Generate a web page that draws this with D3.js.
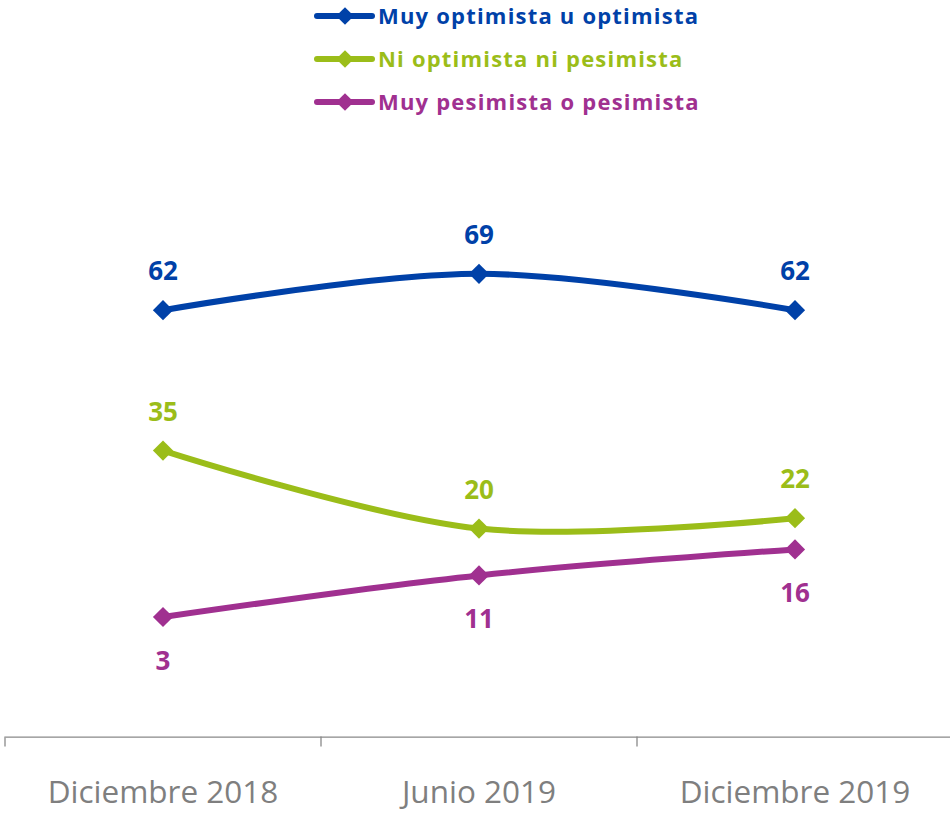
<!DOCTYPE html>
<html>
<head>
<meta charset="utf-8">
<script src="https://cdn.jsdelivr.net/npm/d3@7"></script>
<style>
  body { margin: 0; background: #fff; }
  svg { display: block; }
</style>
</head>
<body>
<div id="chart"></div>
<script>
const categories = ["Diciembre 2018", "Junio 2019", "Diciembre 2019"];
const seriesNames = ["Muy optimista u optimista", "Ni optimista ni pesimista", "Muy pesimista o pesimista"];
const optimista = [62, 69, 62];
const neutral = [35, 20, 22];
const pesimista = [3, 11, 16];
const colors = ["#0041a8", "#9bbd19", "#a03090"];
const labelPos = ["above", "above", "below"];

const width = 950, height = 814;
const series = [optimista, neutral, pesimista].map((values, i) => ({
    name: seriesNames[i], values, color: colors[i], pos: labelPos[i]
}));

const svg = d3.select("#chart")
    .append("svg")
    .attr("width", width)
    .attr("height", height);

const x = d3.scaleBand()
    .domain(categories)
    .range([5, 953]);

const y = d3.scaleLinear()
    .domain([-20, 100])
    .range([736.6, 112.6]);

// x axis
const axis = svg.append("g")
    .attr("transform", `translate(0,${y(-20)})`)
    .call(d3.axisBottom(x).tickSize(0).tickPadding(44));
axis.select(".domain").attr("stroke", "#898989").attr("stroke-width", 1.3);
axis.selectAll(".tick text")
    .attr("fill", "#7f7f7f")
    .style("font-family", "'Open Sans', sans-serif")
    .style("font-size", "31.5px");

svg.append("g")
    .selectAll("line")
    .data(categories)
    .join("line")
    .attr("x1", d => x(d))
    .attr("x2", d => x(d))
    .attr("y1", y(-20))
    .attr("y2", y(-20) + 10)
    .attr("stroke", "#898989")
    .attr("stroke-width", 1.3);

const line = d3.line()
    .x((d, i) => x(categories[i]) + x.bandwidth() / 2)
    .y(d => y(d))
    .curve(d3.curveCatmullRom.alpha(0.5));

const diamond = d3.symbol().type(d3.symbolDiamond2).size(260);

series.forEach(s => {
    const g = svg.append("g");
    g.append("path")
        .datum(s.values)
        .attr("d", line)
        .attr("fill", "none")
        .attr("stroke", s.color)
        .attr("stroke-width", 6);
    g.selectAll("path.pt")
        .data(s.values)
        .join("path")
        .attr("class", "pt")
        .attr("d", diamond)
        .attr("transform", (d, i) => `translate(${x(categories[i]) + x.bandwidth() / 2},${y(d)})`)
        .attr("fill", s.color);
    g.selectAll("text")
        .data(s.values)
        .join("text")
        .attr("x", (d, i) => x(categories[i]) + x.bandwidth() / 2)
        .attr("y", d => s.pos === "above" ? y(d) - 30 : y(d) + 53)
        .attr("text-anchor", "middle")
        .attr("fill", s.color)
        .style("font-family", "'Open Sans', sans-serif")
        .style("font-weight", "bold")
        .style("font-size", "26px")
        .text(d => d);
});

// legend
const legend = svg.append("g").attr("transform", "translate(317,0)");
const legendRows = legend.selectAll("g")
    .data(series)
    .join("g")
    .attr("transform", (d, i) => `translate(0,${16 + i * 43})`);
legendRows.append("line")
    .attr("x1", 0).attr("x2", 55)
    .attr("stroke", d => d.color)
    .attr("stroke-width", 6)
    .attr("stroke-linecap", "round");
legendRows.append("path")
    .attr("d", d3.symbol().type(d3.symbolDiamond2).size(200))
    .attr("transform", "translate(28,0)")
    .attr("fill", d => d.color);
legendRows.append("text")
    .attr("x", 61)
    .attr("dy", "0.35em")
    .attr("fill", d => d.color)
    .style("font-family", "'Open Sans', sans-serif")
    .style("font-weight", "bold")
    .style("font-size", "22px")
    .style("letter-spacing", "1.2px")
    .text(d => d.name);
</script>
</body>
</html>
